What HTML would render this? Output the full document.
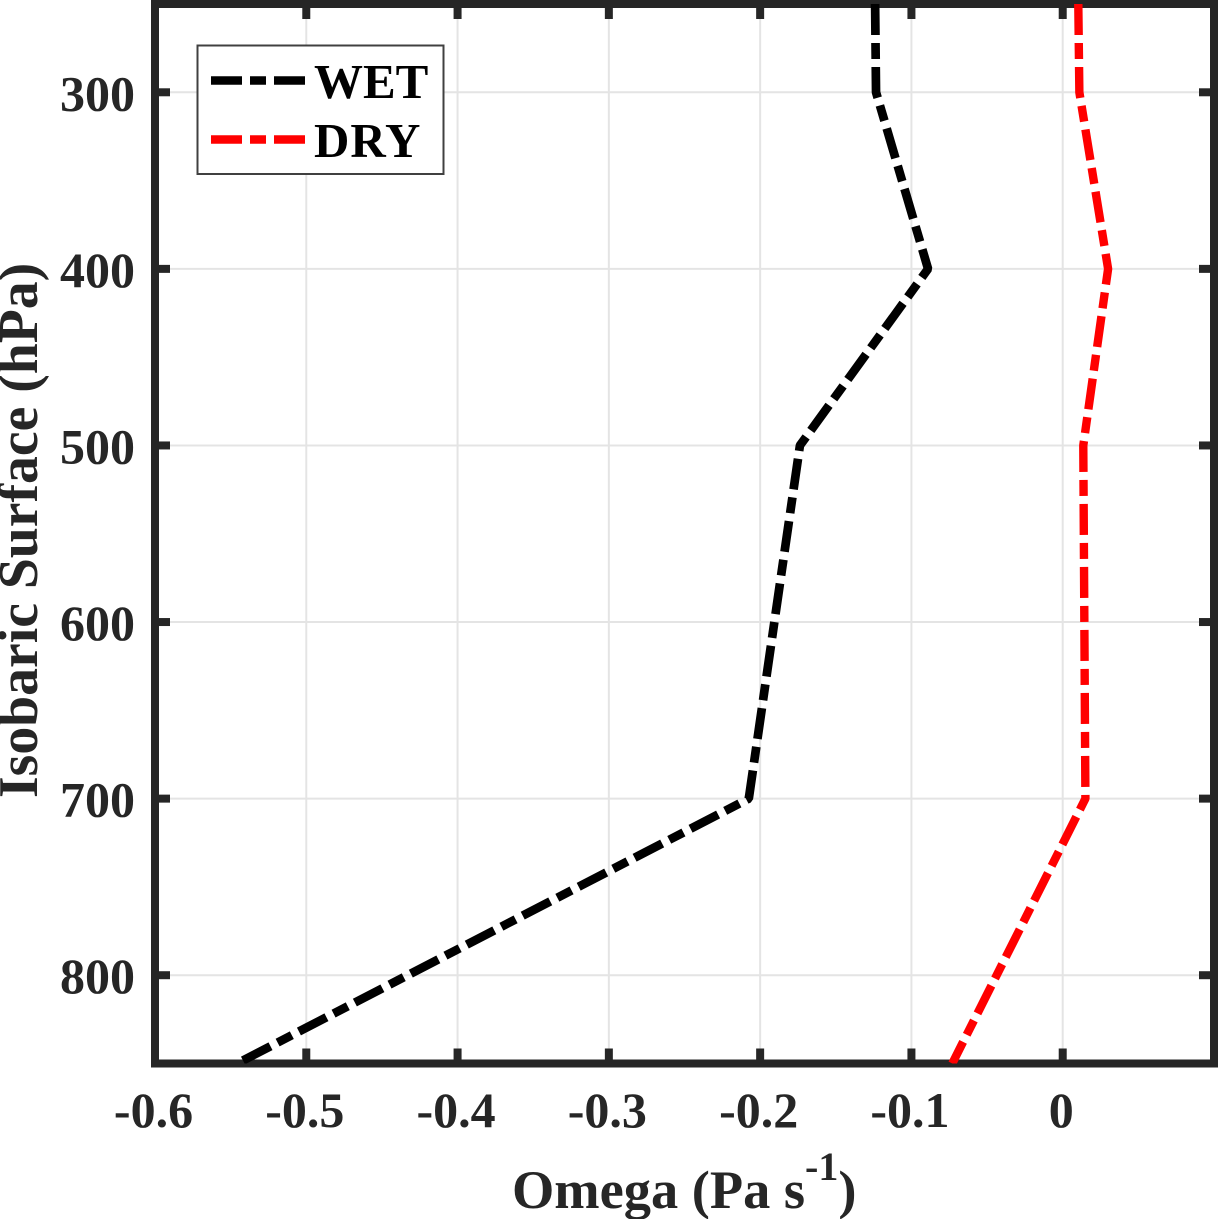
<!DOCTYPE html>
<html>
<head>
<meta charset="utf-8">
<title>Omega profile</title>
<style>
html,body{margin:0;padding:0;background:#fff;}
svg{display:block;}
text{font-family:"Liberation Serif",serif;font-weight:bold;fill:#262626;}
</style>
</head>
<body>
<svg id="chart" xmlns="http://www.w3.org/2000/svg" width="1219" height="1219" viewBox="0 0 1219 1219"></svg>
<script>
const xTicks = [-0.6, -0.5, -0.4, -0.3, -0.2, -0.1, 0];
const yTicks = [300, 400, 500, 600, 700, 800];
const pressureLevels = [250, 300, 400, 500, 700, 850];
const wetOmega = [-0.124, -0.1234, -0.089, -0.1737, -0.2075, -0.5457];
const dryOmega = [0.0103, 0.011, 0.030, 0.0136, 0.015, -0.073];
const xDomain = [-0.6, 0.1];
const yDomain = [250, 850];

const plot = {left: 155, right: 1214, top: 4, bottom: 1063.5};
const NS = 'http://www.w3.org/2000/svg';
const svg = document.getElementById('chart');
function xScale(v){ return plot.left + (v - xDomain[0]) / (xDomain[1] - xDomain[0]) * (plot.right - plot.left); }
function yScale(v){ return plot.top + (v - yDomain[0]) / (yDomain[1] - yDomain[0]) * (plot.bottom - plot.top); }
function make(tag, attrs, text){
  const el = document.createElementNS(NS, tag);
  for (const k in attrs) el.setAttribute(k, attrs[k]);
  if (text !== undefined) el.textContent = text;
  svg.appendChild(el);
  return el;
}
const clip = document.createElementNS(NS, 'clipPath');
clip.setAttribute('id', 'plot-clip');
const clipRect = document.createElementNS(NS, 'rect');
clipRect.setAttribute('x', plot.left);
clipRect.setAttribute('y', plot.top);
clipRect.setAttribute('width', plot.right - plot.left);
clipRect.setAttribute('height', plot.bottom - plot.top);
clip.appendChild(clipRect);
svg.appendChild(clip);

xTicks.forEach(function(t){
  const x = xScale(t);
  const g = make('line', {x1:x, x2:x, y1:plot.top, y2:plot.bottom, stroke:'#e4e4e4', 'stroke-width':2});
  
  
});
yTicks.forEach(function(t){
  const y = yScale(t);
  const g = make('line', {x1:plot.left, x2:plot.right, y1:y, y2:y, stroke:'#e4e4e4', 'stroke-width':2});
  
  
});

const frame = make('rect', {x:plot.left, y:plot.top, width:plot.right-plot.left, height:plot.bottom-plot.top, fill:'none', stroke:'#262626', 'stroke-width':8});



xTicks.forEach(function(t){
  const x = xScale(t);
  const b = make('line', {x1:x, x2:x, y1:plot.bottom, y2:plot.bottom-15, stroke:'#262626', 'stroke-width':8});
  
  
  const a = make('line', {x1:x, x2:x, y1:plot.top, y2:plot.top+15, stroke:'#262626', 'stroke-width':8});
  
  
  const l = make('text', {x:x-1.5, y:1127, 'text-anchor':'middle', 'font-size':50}, String(t));
  
  
});
yTicks.forEach(function(t){
  const y = yScale(t);
  const a = make('line', {x1:plot.left, x2:plot.left+15, y1:y, y2:y, stroke:'#262626', 'stroke-width':8});
  
  
  const b = make('line', {x1:plot.right, x2:plot.right-15, y1:y, y2:y, stroke:'#262626', 'stroke-width':8});
  
  
  const l = make('text', {x:135, y:y+18, 'text-anchor':'end', 'font-size':50}, String(t));
  
  
});

function seriesPoints(values){
  return values.map(function(v, i){ return xScale(v).toFixed(2) + ',' + yScale(pressureLevels[i]).toFixed(2); }).join(' ');
}
const wetLine = make('polyline', {points:seriesPoints(wetOmega), fill:'none', stroke:'#000', 'stroke-width':8.7, 'stroke-dasharray':'31 8 16 8', 'stroke-linejoin':'bevel', 'clip-path':'url(#plot-clip)'});


const dryLine = make('polyline', {points:seriesPoints(dryOmega), fill:'none', stroke:'#f00', 'stroke-width':8.4, 'stroke-dasharray':'31 8 16 8', 'stroke-linejoin':'bevel', 'clip-path':'url(#plot-clip)'});


</script>
<script>
(function(){
  const NS = 'http://www.w3.org/2000/svg';
  const svg = document.getElementById('chart');
  const box = document.createElementNS(NS, 'rect');
  box.setAttribute('x', 197.5); box.setAttribute('y', 45.5);
  box.setAttribute('width', 246); box.setAttribute('height', 128.5);
  box.setAttribute('fill', '#fff'); box.setAttribute('stroke', '#404040'); box.setAttribute('stroke-width', 2);
  
  
  svg.appendChild(box);

  const wetKey = document.createElementNS(NS, 'line');
  wetKey.setAttribute('x1', 211); wetKey.setAttribute('x2', 305); wetKey.setAttribute('y1', 80.5); wetKey.setAttribute('y2', 80.5);
  wetKey.setAttribute('stroke', '#000'); wetKey.setAttribute('stroke-width', 8.6); wetKey.setAttribute('stroke-dasharray', '31 8 16 8');
  
  
  svg.appendChild(wetKey);

  const dryKey = document.createElementNS(NS, 'line');
  dryKey.setAttribute('x1', 211); dryKey.setAttribute('x2', 305); dryKey.setAttribute('y1', 139.5); dryKey.setAttribute('y2', 139.5);
  dryKey.setAttribute('stroke', '#f00'); dryKey.setAttribute('stroke-width', 8.6); dryKey.setAttribute('stroke-dasharray', '31 8 16 8');
  
  
  svg.appendChild(dryKey);

  const wetText = document.createElementNS(NS, 'text');
  wetText.setAttribute('x', 314); wetText.setAttribute('y', 98); wetText.setAttribute('font-size', 49);
  wetText.setAttribute('style', 'fill:#000');
  wetText.textContent = 'WET';
  
  
  svg.appendChild(wetText);

  const dryText = document.createElementNS(NS, 'text');
  dryText.setAttribute('x', 314); dryText.setAttribute('y', 157); dryText.setAttribute('font-size', 49);
  dryText.setAttribute('style', 'fill:#000;letter-spacing:1px');
  dryText.textContent = 'DRY';
  
  
  svg.appendChild(dryText);

  const xTitle = document.createElementNS(NS, 'text');
  xTitle.setAttribute('x', 512); xTitle.setAttribute('y', 1208); xTitle.setAttribute('font-size', 54.4);
  
  
  xTitle.appendChild(document.createTextNode('Omega (Pa s'));
  const sup = document.createElementNS(NS, 'tspan');
  sup.setAttribute('dy', -28); sup.setAttribute('font-size', 40);
  sup.textContent = '-1';
  xTitle.appendChild(sup);
  const close = document.createElementNS(NS, 'tspan');
  close.setAttribute('dy', 28);
  close.textContent = ')';
  xTitle.appendChild(close);
  svg.appendChild(xTitle);

  const yTitle = document.createElementNS(NS, 'text');
  yTitle.setAttribute('transform', 'translate(37,798) rotate(-90)');
  yTitle.setAttribute('font-size', 55.7);
  yTitle.textContent = 'Isobaric Surface (hPa)';
  
  
  svg.appendChild(yTitle);
})();
</script>
</body>
</html>
